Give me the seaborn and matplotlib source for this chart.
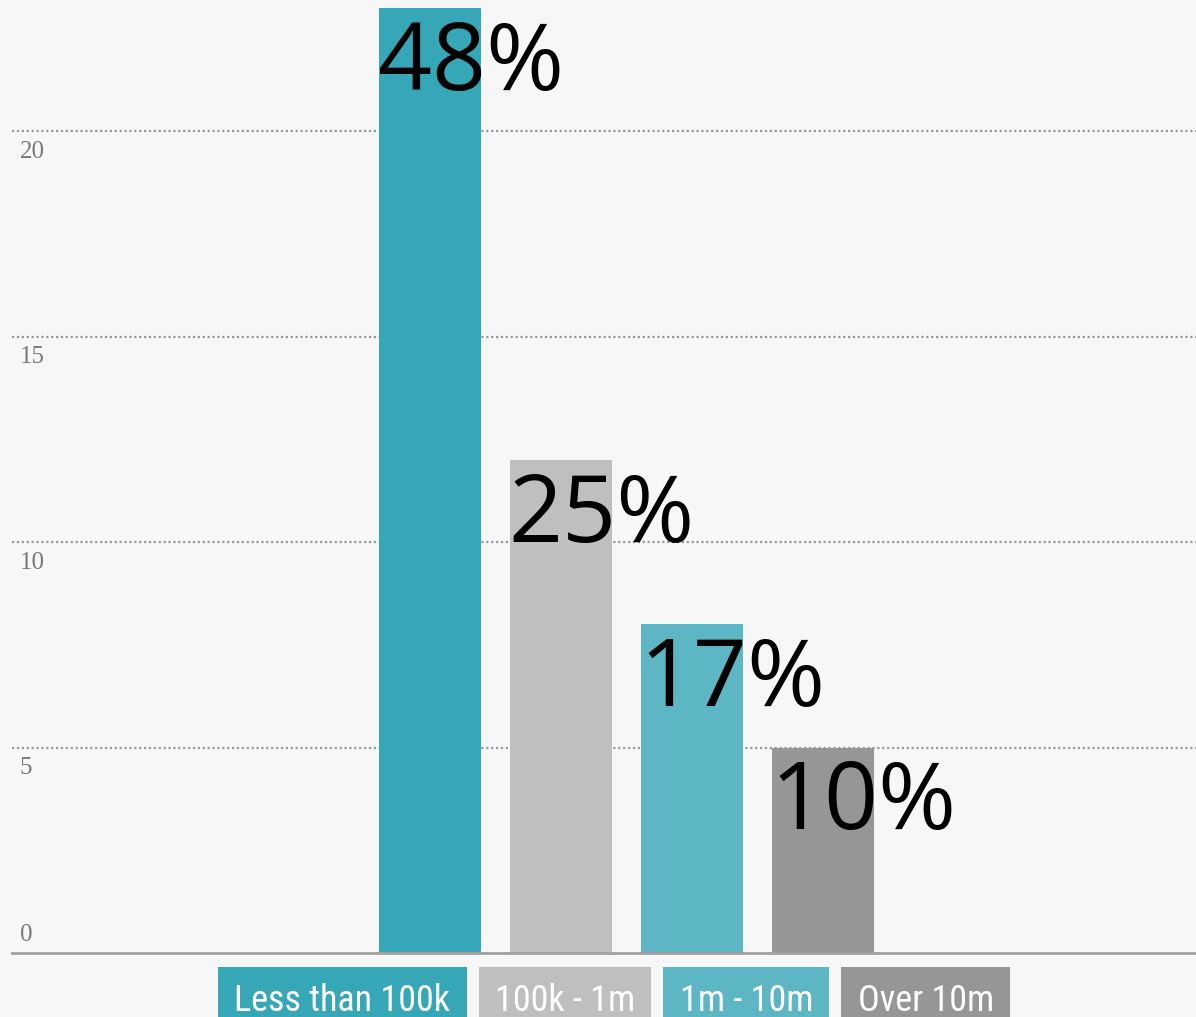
import matplotlib
matplotlib.use("Agg")
import matplotlib.pyplot as plt
from matplotlib import font_manager
import seaborn as sns
import pandas as pd

sns.set_style("white")

# data
categories = ["Less than 100k", "100k - 1m", "1m - 10m", "Over 10m"]
counts = [23, 12, 8, 5]
pct_labels = ["48%", "25%", "17%", "10%"]
bar_colors = ["#36a7b7", "#bfbfbf", "#5cb6c4", "#969696"]
y_ticks = [0, 5, 10, 15, 20]

bg = "#f7f7f7"
df = pd.DataFrame({"category": categories, "count": counts})


def pick_narrow_font():
    # a condensed face if one is installed, otherwise plain DejaVu at a smaller size
    for name in ["Liberation Sans Narrow", "DejaVu Sans Condensed", "Roboto Condensed"]:
        try:
            font_manager.findfont(name, fallback_to_default=False)
            return name, 26
        except ValueError:
            pass
    return "DejaVu Sans", 19.5


cat_font, cat_size = pick_narrow_font()

fig = plt.figure(figsize=(11.96, 10.17), dpi=100, facecolor=bg)
ax = fig.add_axes([12 / 1196, 64 / 1017, 1 - 12 / 1196, 953 / 1017])
ax.set_facecolor(bg)

# dotted grid lines behind the bars
for t in y_ticks[1:]:
    ax.axhline(t, color="#999999", lw=1.6, ls=(0, (1, 1.2)), zorder=0)

sns.barplot(data=df, x="category", y="count", hue="category",
            palette=bar_colors, width=0.78, legend=False, ax=ax,
            saturation=1, linewidth=0, zorder=2)

ax.set_xlim((12 - 430) / 131, (1196 - 430) / 131)
ax.set_ylim(0, 953 / 41.1)

for s in ["top", "right", "left"]:
    ax.spines[s].set_visible(False)
ax.spines["bottom"].set_color("#a0a0a0")
ax.spines["bottom"].set_linewidth(2)
ax.set_xticks([])
ax.set_yticks([])
ax.set_xlabel("")
ax.set_ylabel("")

# y tick labels, drawn below each grid line (0 sits above the axis)
for t in y_ticks:
    y = t + 0.45 if t == 0 else t - 0.5
    ax.text(-3.13, y, str(t), family="Liberation Serif", fontsize=18,
            color="#7a7a7a", va="center", ha="left")

# big percentage labels, left aligned on the bar
for bar, lab in zip(ax.patches, pct_labels):
    ax.annotate(lab, (bar.get_x(), bar.get_height()), xytext=(-1, -59),
                textcoords="offset points", ha="left", va="baseline",
                fontsize=68, family=["Open Sans", "DejaVu Sans"],
                color="black", zorder=5)

# category boxes at the bottom, laid out in a row
fig.canvas.draw()
renderer = fig.canvas.get_renderer()
x_px = 218
pad = 0.45
for cat, col in zip(categories, bar_colors):
    txt = fig.text(x_px / 1196, 1 - 1001 / 1017, cat, ha="left", va="center",
                   fontsize=cat_size, color="white", family=cat_font,
                   bbox=dict(boxstyle="square,pad=%s" % pad, fc=col, ec="none"))
    fig.canvas.draw()
    w = txt.get_bbox_patch().get_window_extent(renderer).width
    txt.set_x((x_px + pad * cat_size * 100 / 72) / 1196)
    x_px += w + 12

plt.savefig("out.png", dpi=100, facecolor=bg)
